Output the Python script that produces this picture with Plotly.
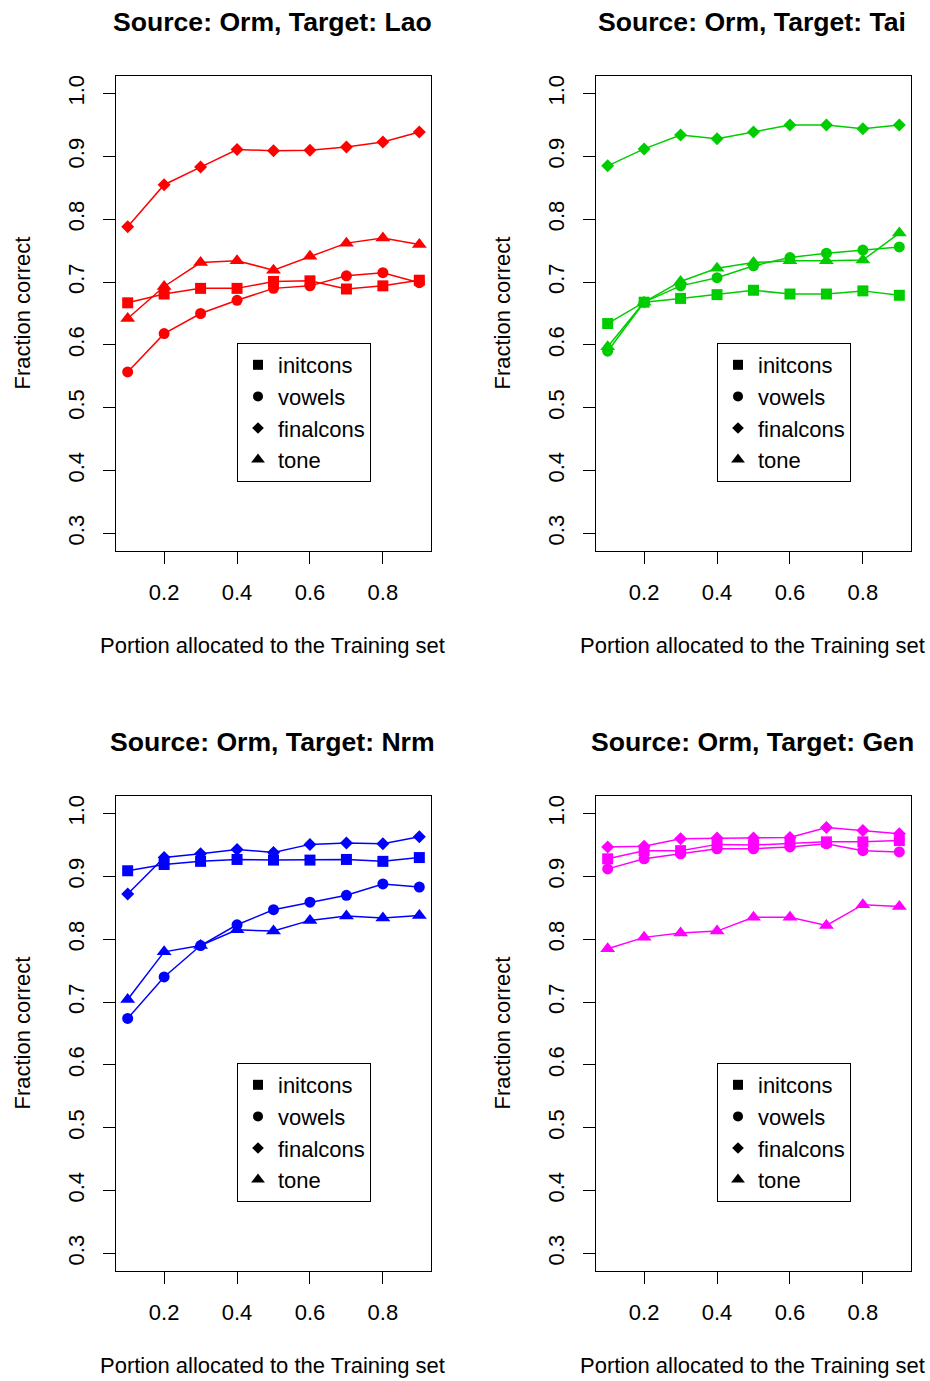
import plotly.graph_objects as go

portion = [0.1, 0.2, 0.3, 0.4, 0.5, 0.6, 0.7, 0.8, 0.9]
series_names = ["initcons", "vowels", "finalcons", "tone"]
targets = ["Lao", "Tai", "Nrm", "Gen"]
colors = ["#FF0000", "#00CD00", "#0000FF", "#FF00FF"]

lao_initcons = [0.667, 0.681, 0.690, 0.690, 0.701, 0.702, 0.689, 0.694, 0.703]
lao_vowels = [0.557, 0.618, 0.650, 0.671, 0.690, 0.694, 0.710, 0.715, 0.699]
lao_finalcons = [0.788, 0.855, 0.883, 0.911, 0.909, 0.910, 0.915, 0.923, 0.939]
lao_tone = [0.642, 0.693, 0.731, 0.734, 0.719, 0.741, 0.762, 0.770, 0.760]

tai_initcons = [0.634, 0.668, 0.674, 0.680, 0.687, 0.681, 0.681, 0.686, 0.679]
tai_vowels = [0.590, 0.668, 0.694, 0.707, 0.726, 0.739, 0.746, 0.751, 0.756]
tai_finalcons = [0.885, 0.912, 0.934, 0.928, 0.939, 0.950, 0.950, 0.944, 0.950]
tai_tone = [0.597, 0.668, 0.701, 0.722, 0.731, 0.734, 0.734, 0.735, 0.778]

nrm_initcons = [0.909, 0.919, 0.924, 0.927, 0.926, 0.926, 0.927, 0.924, 0.930]
nrm_vowels = [0.674, 0.740, 0.790, 0.823, 0.847, 0.859, 0.870, 0.888, 0.883]
nrm_finalcons = [0.872, 0.930, 0.936, 0.943, 0.938, 0.951, 0.953, 0.952, 0.963]
nrm_tone = [0.704, 0.780, 0.790, 0.815, 0.813, 0.830, 0.837, 0.834, 0.838]

gen_initcons = [0.928, 0.941, 0.941, 0.951, 0.950, 0.953, 0.955, 0.955, 0.957]
gen_vowels = [0.912, 0.928, 0.936, 0.944, 0.944, 0.947, 0.952, 0.941, 0.939]
gen_finalcons = [0.947, 0.948, 0.960, 0.961, 0.961, 0.962, 0.978, 0.973, 0.968]
gen_tone = [0.785, 0.803, 0.810, 0.813, 0.835, 0.835, 0.822, 0.855, 0.852]

x_ticks = [0.2, 0.4, 0.6, 0.8]
x_tick_labels = ["0.2", "0.4", "0.6", "0.8"]
y_ticks = [0.3, 0.4, 0.5, 0.6, 0.7, 0.8, 0.9, 1.0]
y_tick_labels = ["0.3", "0.4", "0.5", "0.6", "0.7", "0.8", "0.9", "1.0"]

panel_data = [
    [lao_initcons, lao_vowels, lao_finalcons, lao_tone],
    [tai_initcons, tai_vowels, tai_finalcons, tai_tone],
    [nrm_initcons, nrm_vowels, nrm_finalcons, nrm_tone],
    [gen_initcons, gen_vowels, gen_finalcons, gen_tone],
]

W, H = 930, 1381
FONT = "Liberation Sans, Arial, Helvetica, sans-serif"
symbols = ["square", "circle", "diamond", "triangle-up"]
sizes = [11, 11, 10, 13]
leg_sizes = [10, 10, 9, 12]

# plot areas in pixels (left, right, top, bottom)
areas = [(116, 431, 76, 551), (596, 911, 76, 551),
         (116, 431, 796, 1271), (596, 911, 796, 1271)]

fig = go.Figure()
layout = dict(
    width=W, height=H, margin=dict(l=0, r=0, t=0, b=0),
    paper_bgcolor="white", plot_bgcolor="white",
    font=dict(family=FONT, size=22, color="black"),
    showlegend=True,
)
annotations = []

for p in range(4):
    left, right, top, bottom = areas[p]
    xa = "xaxis" if p == 0 else f"xaxis{p+1}"
    ya = "yaxis" if p == 0 else f"yaxis{p+1}"
    xr = "x" if p == 0 else f"x{p+1}"
    yr = "y" if p == 0 else f"y{p+1}"
    lg = "legend" if p == 0 else f"legend{p+1}"
    for s in range(4):
        fig.add_trace(go.Scatter(
            x=portion, y=panel_data[p][s], mode="lines+markers",
            line=dict(color=colors[p], width=1.5),
            marker=dict(symbol=symbols[s], size=sizes[s], color=colors[p]),
            xaxis=xr, yaxis=yr, showlegend=False, name=series_names[s],
        ))
    for s in range(4):
        fig.add_trace(go.Scatter(
            x=[None], y=[None], mode="markers",
            marker=dict(symbol=symbols[s], size=leg_sizes[s], color="black"),
            xaxis=xr, yaxis=yr, showlegend=True, legend=lg, name=series_names[s],
        ))
    layout[xa] = dict(
        domain=[left / W, right / W], range=[0.068, 0.932], anchor=yr,
        tickvals=x_ticks, ticktext=x_tick_labels, ticks="outside", ticklen=12,
        tickcolor="black", showline=True, linecolor="black", linewidth=1,
        mirror=True, showgrid=False, zeroline=False, ticklabelstandoff=10,
        tickfont=dict(size=22, family=FONT, color="black"),
    )
    layout[ya] = dict(
        domain=[1 - bottom / H, 1 - top / H], range=[0.272, 1.028], anchor=xr,
        tickvals=y_ticks, ticktext=y_tick_labels, ticks="outside", ticklen=12,
        tickcolor="black", showline=True, linecolor="black", linewidth=1,
        mirror=True, showgrid=False, zeroline=False, tickangle=-90,
        ticklabelstandoff=10,
        tickfont=dict(size=22, family=FONT, color="black"),
    )
    layout[lg] = dict(
        x=(left + 121) / W, y=1 - (top + 267) / H, xanchor="left", yanchor="top",
        xref="paper", yref="paper",
        bgcolor="white", bordercolor="black", borderwidth=1,
        font=dict(size=22, family=FONT, color="black"),
        entrywidth=96, entrywidthmode="pixels",
        itemclick=False, itemdoubleclick=False,
    )
    cx = (left + right) / 2 - 1.5
    annotations.append(dict(
        text=f"<b>Source: Orm, Target: {targets[p]}</b>", x=cx / W, y=1 - (top - 54) / H,
        xref="paper", yref="paper", showarrow=False, xanchor="center", yanchor="middle",
        font=dict(size=26.6, family=FONT, color="black"),
    ))
    annotations.append(dict(
        text="Portion allocated to the Training set", x=cx / W, y=1 - (bottom + 94) / H,
        xref="paper", yref="paper", showarrow=False, xanchor="center", yanchor="middle",
        font=dict(size=22, family=FONT, color="black"),
    ))
    annotations.append(dict(
        text="Fraction correct", x=(left - 94) / W, y=1 - ((top + bottom) / 2) / H,
        xref="paper", yref="paper", showarrow=False, xanchor="center", yanchor="middle",
        textangle=-90, font=dict(size=22, family=FONT, color="black"),
    ))

layout["annotations"] = annotations
fig.update_layout(**layout)
fig.write_html("out.html")
